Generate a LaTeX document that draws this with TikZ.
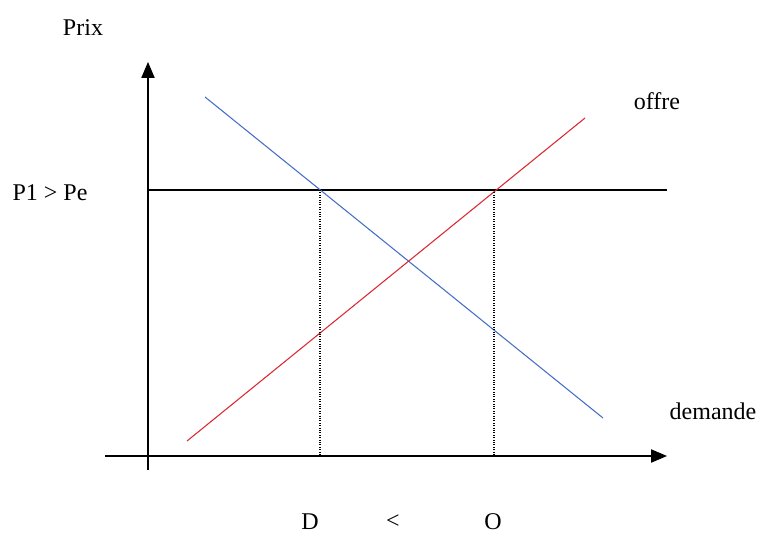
\documentclass[tikz,border=0pt]{standalone}
\usepackage{fontspec}
\setmainfont{Liberation Serif}
\usetikzlibrary{arrows.meta}

\begin{document}
\begin{tikzpicture}
    [x=0.75pt, y=-0.75pt,
    axis/.style={thick, -{Triangle[length=12pt, width=10pt]}},
    guide/.style={densely dotted, thick},
    lbl/.style={inner sep=0pt, font=\fontsize{18}{20}\selectfont}]
        \useasboundingbox (0,0) rectangle (763,535);
        % axes
        \coordinate (O1) at (148,470);
        \coordinate (Ytop) at (148,62);
        \coordinate (X0) at (105,456);
        \coordinate (Xend) at (667,456);
        \draw[axis] (O1) to (Ytop);
        \draw[axis] (X0) to (Xend);
        % price P1
        \coordinate (P1a) at (148,190);
        \coordinate (P1b) at (667,190);
        \draw[thick] (P1a) to (P1b);
        % demand and supply
        \coordinate (D1) at (205,97);
        \coordinate (D2) at (603,418);
        \coordinate (S1) at (187,441);
        \coordinate (S2) at (585,118);
        \draw[thick, color={rgb,255:red,70;green,110;blue,200}] (D1) to (D2);
        \draw[thick, color={rgb,255:red,220;green,40;blue,50}] (S1) to (S2);
        % quantities
        \coordinate (Dtop) at (320,190);
        \coordinate (Dbot) at (320,456);
        \coordinate (Otop) at (494,190);
        \coordinate (Obot) at (494,456);
        \draw[guide] (Dtop) to (Dbot);
        \draw[guide] (Otop) to (Obot);
        % labels
        \node[lbl] (prix) at (83,28) {Prix};
        \node[lbl] (pe) at (50,193) {P1 > Pe};
        \node[lbl] (offre) at (657,101) {offre};
        \node[lbl] (demande) at (713,411) {demande};
        \node[lbl] (qd) at (310,522) {D};
        \node[lbl] (lt) at (393,522) {<};
        \node[lbl] (qo) at (493,522) {O};
    \end{tikzpicture}
\end{document}
